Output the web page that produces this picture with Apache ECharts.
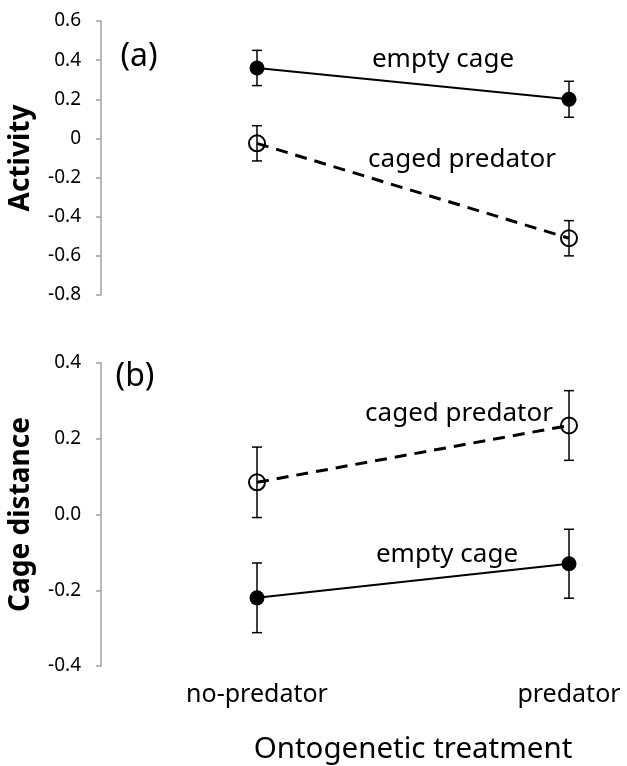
<!DOCTYPE html>
<html>
<head>
<meta charset="utf-8">
<script src="https://cdn.jsdelivr.net/npm/echarts@6/dist/echarts.min.js"></script>
<style>
  html, body { margin: 0; padding: 0; background: #fff; }
  #chart { width: 627px; height: 766px; }
</style>
</head>
<body>
<div id="chart"></div>
<script>
// ---- data ----
const categories = ['no-predator', 'predator'];
// panel (a) Activity
const activityEmpty = [0.36, 0.20];
const activityEmptyErr = [0.09, 0.092];
const activityCaged = [-0.025, -0.51];
const activityCagedErr = [0.09, 0.09];
// panel (b) Cage distance
const distCaged = [0.085, 0.235];
const distCagedErr = [0.093, 0.092];
const distEmpty = [-0.22, -0.13];
const distEmptyErr = [0.092, 0.091];
// axis ranges
const activityRange = [-0.8, 0.6];
const distRange = [-0.4, 0.4];
const tickStep = 0.2;
// texts
const panelLabels = ['(a)', '(b)'];
const seriesNames = ['empty cage', 'caged predator'];
const yNames = ['Activity', 'Cage distance'];
const xName = 'Ontogenetic treatment';

const FONT = 'Noto Sans';
const AXIS_GRAY = '#a0a0a0';

function errData(vals, errs) {
  return vals.map((v, i) => [i, v - errs[i], v + errs[i]]);
}
function errSeries(vals, errs, gi) {
  return {
    type: 'custom',
    xAxisIndex: gi, yAxisIndex: gi,
    z: 1,
    silent: true,
    data: errData(vals, errs),
    renderItem: function (params, api) {
      const x = api.value(0);
      const lo = api.coord([x, api.value(1)]);
      const hi = api.coord([x, api.value(2)]);
      const w = 5;
      const st = { stroke: '#000', lineWidth: 1.5 };
      return {
        type: 'group',
        children: [
          { type: 'line', shape: { x1: lo[0], y1: lo[1], x2: hi[0], y2: hi[1] }, style: st },
          { type: 'line', shape: { x1: lo[0] - w, y1: lo[1], x2: lo[0] + w, y2: lo[1] }, style: st },
          { type: 'line', shape: { x1: hi[0] - w, y1: hi[1], x2: hi[0] + w, y2: hi[1] }, style: st }
        ]
      };
    }
  };
}
function filledSeries(name, vals, gi) {
  return {
    name: name, type: 'line', xAxisIndex: gi, yAxisIndex: gi, z: 3,
    data: vals, symbol: 'circle', symbolSize: 15, showAllSymbol: true,
    lineStyle: { color: '#000', width: 2 },
    itemStyle: { color: '#000', borderWidth: 0 }
  };
}
function hollowSeries(name, vals, gi) {
  return {
    name: name, type: 'line', xAxisIndex: gi, yAxisIndex: gi, z: 3,
    data: vals, symbol: 'circle', symbolSize: 16, showAllSymbol: true,
    lineStyle: { color: '#000', width: 3, type: [12, 8] },
    itemStyle: { color: 'rgba(255,255,255,0)', borderColor: '#000', borderWidth: 2 }
  };
}
function yAxisCfg(gi, range, name, fmt) {
  return {
    type: 'value', gridIndex: gi,
    min: range[0], max: range[1], interval: tickStep,
    offset: 156,
    name: name, nameLocation: 'middle', nameGap: 66,
    nameTextStyle: { fontFamily: FONT, fontSize: 28, fontWeight: 'bold', color: '#000' },
    axisLine: { show: true, lineStyle: { color: AXIS_GRAY, width: 1.5 } },
    axisTick: { show: true, length: 5, lineStyle: { color: AXIS_GRAY, width: 1.5 } },
    axisLabel: { fontFamily: FONT, fontSize: 19, color: '#000', margin: 20, formatter: fmt },
    splitLine: { show: false }
  };
}

const option = {
  animation: false,
  backgroundColor: '#fff',
  grid: [
    { left: 257, right: 58, top: 21, height: 274 },
    { left: 257, right: 58, top: 363, height: 304 }
  ],
  xAxis: [
    { type: 'category', gridIndex: 0, data: categories, boundaryGap: false, show: false },
    {
      type: 'category', gridIndex: 1, data: categories, boundaryGap: false,
      axisLine: { show: false }, axisTick: { show: false },
      axisLabel: { fontFamily: FONT, fontSize: 25, color: '#000', margin: 16 },
      name: xName, nameLocation: 'middle', nameGap: 69,
      nameTextStyle: { fontFamily: FONT, fontSize: 29.5, color: '#000' }
    }
  ],
  yAxis: [
    yAxisCfg(0, activityRange, yNames[0], function (v) { return Math.abs(v) < 1e-9 ? '0' : (+v.toFixed(1)).toString(); }),
    yAxisCfg(1, distRange, yNames[1], function (v) { return (Math.abs(v) < 1e-9 ? 0 : v).toFixed(1); })
  ],
  series: [
    errSeries(activityEmpty, activityEmptyErr, 0),
    errSeries(activityCaged, activityCagedErr, 0),
    filledSeries(seriesNames[0], activityEmpty, 0),
    hollowSeries(seriesNames[1], activityCaged, 0),
    errSeries(distCaged, distCagedErr, 1),
    errSeries(distEmpty, distEmptyErr, 1),
    hollowSeries(seriesNames[1], distCaged, 1),
    filledSeries(seriesNames[0], distEmpty, 1)
  ],
  graphic: [
    { type: 'text', x: 139, y: 57, style: { text: panelLabels[0], font: '32px "' + FONT + '"', fill: '#000', textAlign: 'center', textVerticalAlign: 'middle' } },
    { type: 'text', x: 135, y: 377, style: { text: panelLabels[1], font: '32px "' + FONT + '"', fill: '#000', textAlign: 'center', textVerticalAlign: 'middle' } },
    { type: 'text', x: 443, y: 60, style: { text: seriesNames[0], font: '26px "' + FONT + '"', fill: '#000', textAlign: 'center', textVerticalAlign: 'middle' } },
    { type: 'text', x: 462, y: 160, style: { text: seriesNames[1], font: '26px "' + FONT + '"', fill: '#000', textAlign: 'center', textVerticalAlign: 'middle' } },
    { type: 'text', x: 459, y: 414, style: { text: seriesNames[1], font: '26px "' + FONT + '"', fill: '#000', textAlign: 'center', textVerticalAlign: 'middle' } },
    { type: 'text', x: 447, y: 555, style: { text: seriesNames[0], font: '26px "' + FONT + '"', fill: '#000', textAlign: 'center', textVerticalAlign: 'middle' } }
  ]
};

const chart = echarts.init(document.getElementById('chart'));
chart.setOption(option);
</script>
</body>
</html>
